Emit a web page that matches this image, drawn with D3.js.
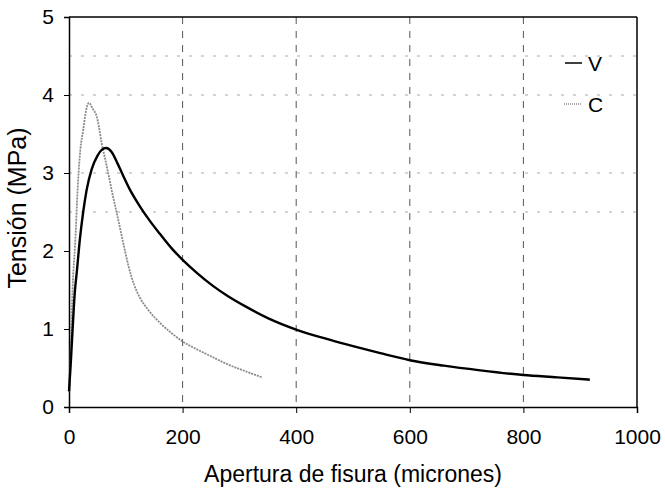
<!DOCTYPE html>
<html>
<head>
<meta charset="utf-8">
<script src="https://cdn.jsdelivr.net/npm/d3@7"></script>
<style>
body { margin: 0; background: #fff; }
text { font-family: "Liberation Sans", Arial, sans-serif; fill: #000; }
</style>
</head>
<body>
<div id="chart"></div>
<script>
// curve V (black)
var vX = [0, 3, 6, 10, 14, 19, 25, 31, 40, 50, 58, 65, 75, 85, 95, 107, 125, 143, 160, 180, 201, 225, 254, 280, 313, 350, 401, 460, 500, 548, 600, 660, 724, 800, 860, 917];
var vY = [0.2, 0.55, 0.95, 1.45, 1.75, 2.14, 2.5, 2.78, 3.05, 3.22, 3.3, 3.32, 3.27, 3.13, 2.97, 2.79, 2.57, 2.38, 2.22, 2.04, 1.88, 1.72, 1.55, 1.42, 1.28, 1.14, 0.99, 0.86, 0.78, 0.69, 0.60, 0.53, 0.47, 0.41, 0.38, 0.35];
// curve C (grey)
var cX = [0, 2, 4, 7, 10.5, 16, 20, 25, 30, 35, 42, 49, 53, 57.5, 63, 69, 76, 84, 95, 105, 115, 125, 140, 160, 180, 200, 225, 250, 280, 310, 340];
var cY = [0.2, 0.47, 1.0, 1.63, 2.05, 2.9, 3.3, 3.55, 3.8, 3.9, 3.82, 3.72, 3.58, 3.38, 3.2, 3.0, 2.75, 2.49, 2.12, 1.8, 1.56, 1.40, 1.24, 1.08, 0.95, 0.84, 0.74, 0.65, 0.545, 0.46, 0.38];

var xTicks = [0, 200, 400, 600, 800, 1000];
var yTicks = [0, 1, 2, 3, 4, 5];
var xGrid = [200, 400, 600, 800];
var yGrid = [2.5, 3, 4, 4.5];
var seriesNames = ["V", "C"];

var W = 665, H = 493;
// plot box (don't call it "top", that's window.top)
var pL = 69, pR = 637, pT = 17, pB = 407;

var svg = d3.select("#chart").append("svg").attr("width", W).attr("height", H);

var x = d3.scaleLinear().domain([0, 1000]).range([pL, pR]);
var y = d3.scaleLinear().domain([0, 5]).range([pB, pT]);

// grid lines
svg.selectAll(".hg").data(yGrid).enter().append("line")
  .attr("x1", pL).attr("x2", pR)
  .attr("y1", function(d){ return y(d); }).attr("y2", function(d){ return y(d); })
  .attr("stroke", "#aaa").attr("stroke-width", 1).attr("stroke-dasharray", "3,9");
svg.selectAll(".vg").data(xGrid).enter().append("line")
  .attr("x1", function(d){ return x(d); }).attr("x2", function(d){ return x(d); })
  .attr("y1", pT).attr("y2", pB)
  .attr("stroke", "#555").attr("stroke-width", 1).attr("stroke-dasharray", "7,7");

// axes
var xAxis = d3.axisBottom(x).tickValues(xTicks).tickFormat(d3.format("d")).tickSize(6).tickPadding(16);
var gx = svg.append("g").attr("transform", "translate(0," + pB + ")").call(xAxis);
gx.selectAll("text").style("font-size", "21px");
var yAxis = d3.axisLeft(y).tickValues(yTicks).tickFormat(d3.format("d")).tickSize(5).tickPadding(10);
var gy = svg.append("g").attr("transform", "translate(" + pL + ",0)").call(yAxis);
gy.selectAll("text").style("font-size", "21px");
svg.selectAll(".domain").attr("stroke", "#000").attr("stroke-width", 1.5);
svg.selectAll(".tick line").attr("stroke", "#000");

// top and right borders
svg.append("line").attr("x1", pL).attr("x2", pR).attr("y1", pT).attr("y2", pT).attr("stroke", "#000").attr("stroke-width", 1.5);
svg.append("line").attr("x1", pR).attr("x2", pR).attr("y1", pT).attr("y2", pB).attr("stroke", "#000").attr("stroke-width", 1.5);

// curves
var line = d3.line().curve(d3.curveMonotoneX)
  .x(function(d){ return x(d[0]); }).y(function(d){ return y(d[1]); });

svg.append("path").datum(d3.zip(cX, cY)).attr("d", line)
  .attr("fill", "none").attr("stroke", "#8a8a8a").attr("stroke-width", 1.8).attr("stroke-dasharray", "2,1");
svg.append("path").datum(d3.zip(vX, vY)).attr("d", line)
  .attr("fill", "none").attr("stroke", "#000").attr("stroke-width", 2.4);

// legend
var leg = svg.append("g");
leg.append("line").attr("x1", 565).attr("x2", 582).attr("y1", 63).attr("y2", 63).attr("stroke", "#000").attr("stroke-width", 1.5);
leg.append("line").attr("x1", 564).attr("x2", 582).attr("y1", 104).attr("y2", 104).attr("stroke", "#8a8a8a").attr("stroke-width", 1.5).attr("stroke-dasharray", "1,1");
leg.append("text").attr("x", 588).attr("y", 71).style("font-size", "21px").text(seriesNames[0]);
leg.append("text").attr("x", 588).attr("y", 112).style("font-size", "21px").text(seriesNames[1]);

// axis titles
svg.append("text").attr("x", 353).attr("y", 482).attr("text-anchor", "middle")
  .style("font-size", "23px").text("Apertura de fisura (micrones)");
svg.append("text").attr("transform", "translate(26,208) rotate(-90)").attr("text-anchor", "middle")
  .style("font-size", "25px").text("Tensión (MPa)");
</script>
</body>
</html>
